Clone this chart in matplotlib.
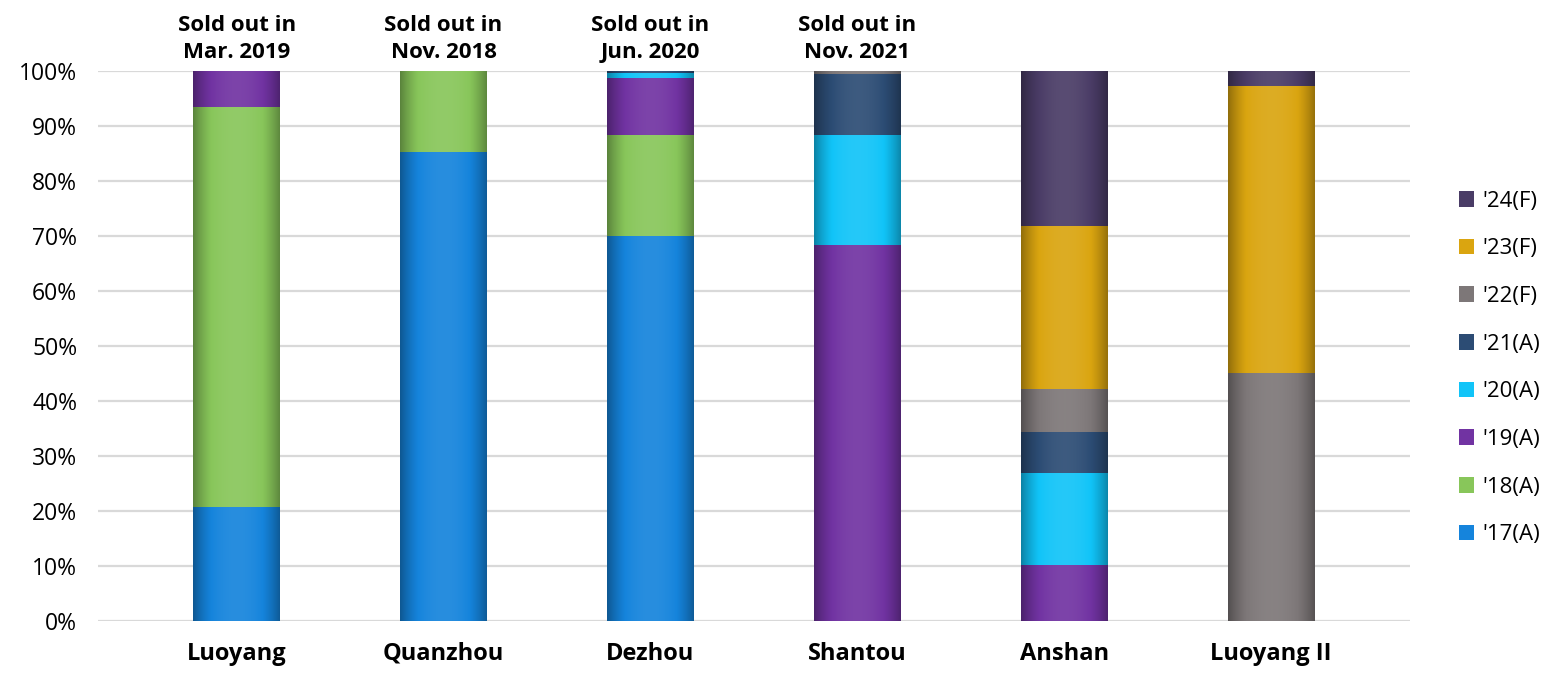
import matplotlib.pyplot as plt
import numpy as np

plt.rcParams['font.family'] = ['Open Sans', 'DejaVu Sans']

# 数据
cities = ['Luoyang', 'Quanzhou', 'Dezhou', 'Shantou', 'Anshan', 'Luoyang II']
notes = ['Sold out in\nMar. 2019', 'Sold out in\nNov. 2018',
         'Sold out in\nJun. 2020', 'Sold out in\nNov. 2021', '', '']
years = ["'17(A)", "'18(A)", "'19(A)", "'20(A)", "'21(A)", "'22(F)", "'23(F)", "'24(F)"]
s17 = [20.7, 85.3, 70.0, 0.0, 0.0, 0.0]
s18 = [72.8, 14.7, 18.4, 0.0, 0.0, 0.0]
s19 = [6.5, 0.0, 10.4, 68.4, 10.2, 0.0]
s20 = [0.0, 0.0, 0.9, 20.0, 16.7, 0.0]
s21 = [0.0, 0.0, 0.3, 11.1, 7.5, 0.0]
s22 = [0.0, 0.0, 0.0, 0.5, 7.8, 45.1]
s23 = [0.0, 0.0, 0.0, 0.0, 29.6, 52.2]
s24 = [0.0, 0.0, 0.0, 0.0, 28.2, 2.7]
colors = ['#1584dc', '#88c65a', '#7133a2', '#11c4f8',
          '#2c4c74', '#7d7778', '#daa510', '#4a3c66']

series = [s17, s18, s19, s20, s21, s22, s23, s24]


def cylinder(ax, rect, color):
    # 在柱子上叠加左右渐变，模拟圆柱效果
    x0, y0 = rect.get_x(), rect.get_y()
    w, h = rect.get_width(), rect.get_height()
    if h <= 0:
        return
    t = np.linspace(0, 1, 120)
    shade = 0.6 + 0.58 * np.sin(np.pi * np.clip(t * 0.95 + 0.02, 0, 1)) ** 0.8
    base = np.array(plt.matplotlib.colors.to_rgb(color))
    rgb = np.empty((1, len(t), 3))
    for i, f in enumerate(shade):
        if f <= 1:
            rgb[0, i] = base * f
        else:
            rgb[0, i] = base + (1 - base) * (f - 1) * 0.45
    ax.imshow(np.clip(rgb, 0, 1), extent=[x0, x0 + w, y0, y0 + h],
              aspect='auto', zorder=3, interpolation='bilinear')


fig = plt.figure(figsize=(15.56, 6.73), dpi=100)
ax = fig.add_axes([0.063, 0.0773, 0.843, 0.817])

x = np.arange(len(cities))
bottom = np.zeros(len(cities))
handles = []
for vals, c, lab in zip(series, colors, years):
    v = np.array(vals) / 100
    bars = ax.bar(x, v, 0.42, bottom=bottom, color=c, label=lab,
                  edgecolor='none', zorder=2)
    for r in bars:
        cylinder(ax, r, c)
    handles.append(bars)
    bottom += v

ax.set_xlim(-0.67, 5.67)
ax.set_ylim(0, 1)
ax.set_yticks(np.arange(0, 1.01, 0.1))
ax.set_yticklabels([f'{int(round(v * 100))}%' for v in np.arange(0, 1.01, 0.1)],
                   fontsize=16.5)
ax.set_xticks(x)
ax.set_xticklabels(cities, fontsize=17, fontweight='bold')
ax.tick_params(length=0)
ax.tick_params(axis='y', pad=15)
ax.tick_params(axis='x', pad=15)
ax.grid(axis='y', color='#d9d9d9', linewidth=1.6, zorder=0)
ax.set_axisbelow(True)
for sp in ax.spines.values():
    sp.set_visible(False)

for xi, n in zip(x, notes):
    if n:
        ax.text(xi, 1.014, n, ha='center', va='bottom', fontsize=16,
                fontweight='bold', linespacing=1.38)

leg = ax.legend(handles[::-1], years[::-1], loc='center left',
                bbox_to_anchor=(1.022, 0.46), frameon=False, fontsize=16,
                labelspacing=1.2, handlelength=0.7, handleheight=0.7,
                handletextpad=0.35)

plt.savefig('out.png', dpi=100, facecolor='white')
